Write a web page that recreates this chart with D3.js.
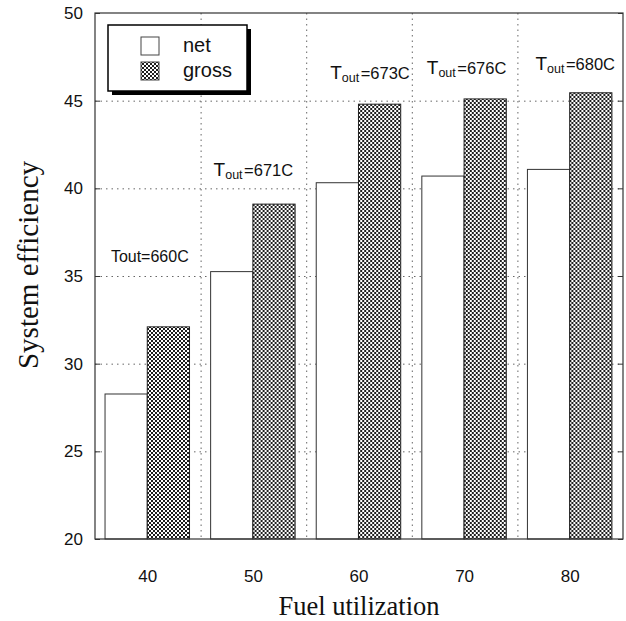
<!DOCTYPE html>
<html>
<head>
<meta charset="utf-8">
<script src="https://cdn.jsdelivr.net/npm/d3@7"></script>
<style>
  body { margin: 0; background: #fff; }
  svg { display: block; }
</style>
</head>
<body>
<svg id="chart" width="626" height="621"></svg>
<script>
// ---- data ----
const categories = ["40", "50", "60", "70", "80"];
const series = ["net", "gross"];
const netValues = [28.27, 35.25, 40.32, 40.7, 41.08];
const grossValues = [32.1, 39.1, 44.8, 45.1, 45.45];
const labelSub = [false, true, true, true, true];
const labelTemps = ["660C", "671C", "673C", "676C", "680C"];
const labelY = [35.8, 40.7, 46.25, 46.5, 46.75];
const yTicks = [20, 25, 30, 35, 40, 45, 50];
const gridY = [25, 30, 35, 40, 45];

// ---- layout ----
const svg = d3.select("#chart");
const L = 95, R = 623, T = 13, B = 539;
const labelNudge = [2, 0, 11, 2, 5];

const x = d3.scaleBand().domain(categories).range([L, R]).padding(0);
const bw = x.bandwidth();
const xs = d3.scaleBand().domain(series).range([bw * 0.095, bw * 0.895]).padding(0);
const y = d3.scaleLinear().domain([20, 50]).range([B, T]);

// pattern
const defs = svg.append("defs");
const pat = defs.append("pattern").attr("id", "checker")
  .attr("patternUnits", "userSpaceOnUse").attr("width", 4).attr("height", 4);
pat.append("rect").attr("width", 4).attr("height", 4).attr("fill", "#fff");
pat.append("rect").attr("x", 0).attr("y", 0).attr("width", 2).attr("height", 2).attr("fill", "#1e1e1e");
pat.append("rect").attr("x", 2).attr("y", 2).attr("width", 2).attr("height", 2).attr("fill", "#1e1e1e");

// grid lines
svg.append("g").selectAll("line").data(gridY).join("line")
  .attr("x1", L).attr("x2", R)
  .attr("y1", d => y(d) + 0.5).attr("y2", d => y(d) + 0.5)
  .attr("stroke", "#666").attr("stroke-width", 1).attr("stroke-dasharray", "1.5,4");
svg.append("g").selectAll("line").data(categories.slice(1)).join("line")
  .attr("x1", d => x(d) + 0.5).attr("x2", d => x(d) + 0.5)
  .attr("y1", T).attr("y2", B)
  .attr("stroke", "#666").attr("stroke-width", 1).attr("stroke-dasharray", "1.5,4");

// bars
const groups = svg.append("g").selectAll("g").data(categories).join("g")
  .attr("transform", d => `translate(${x(d)},0)`);
groups.append("rect")
  .attr("x", xs("net")).attr("width", xs.bandwidth())
  .attr("y", (d, i) => y(netValues[i])).attr("height", (d, i) => B - y(netValues[i]))
  .attr("fill", "#fff").attr("stroke", "#333").attr("stroke-width", 1);
groups.append("rect")
  .attr("x", xs("gross")).attr("width", xs.bandwidth())
  .attr("y", (d, i) => y(grossValues[i])).attr("height", (d, i) => B - y(grossValues[i]))
  .attr("fill", "url(#checker)").attr("stroke", "#222").attr("stroke-width", 1);

// frame
svg.append("rect").attr("x", L).attr("y", T).attr("width", R - L).attr("height", B - T)
  .attr("fill", "none").attr("stroke", "#333").attr("stroke-width", 1.2);

// inward ticks
const yAxisL = d3.axisRight(y).tickValues(yTicks).tickSize(5).tickFormat("");
svg.append("g").attr("transform", `translate(${L},0)`).call(yAxisL)
  .call(g => g.select(".domain").remove())
  .selectAll("line").attr("stroke", "#333");
const yAxisR = d3.axisLeft(y).tickValues(yTicks).tickSize(5).tickFormat("");
svg.append("g").attr("transform", `translate(${R},0)`).call(yAxisR)
  .call(g => g.select(".domain").remove())
  .selectAll("line").attr("stroke", "#333");

// y tick labels
const yLab = d3.axisLeft(y).tickValues(yTicks).tickSize(0).tickPadding(12);
svg.append("g").attr("transform", `translate(${L},0)`).call(yLab)
  .call(g => g.select(".domain").remove())
  .selectAll("text")
  .attr("font-family", "'Liberation Sans', Arial, sans-serif")
  .attr("font-size", 17).attr("fill", "#111");

// x tick labels
const xLab = d3.axisBottom(x).tickSize(0).tickPadding(31);
svg.append("g").attr("transform", `translate(0,${B})`).call(xLab)
  .call(g => g.select(".domain").remove())
  .selectAll("text")
  .attr("font-family", "'Liberation Sans', Arial, sans-serif")
  .attr("font-size", 17).attr("fill", "#111");

// annotations
const ann = svg.append("g").attr("font-family", "'Liberation Sans', Arial, sans-serif")
  .attr("fill", "#111").attr("text-anchor", "middle");
categories.forEach((c, i) => {
  const t = ann.append("text")
    .attr("x", x(c) + bw / 2 + labelNudge[i])
    .attr("y", y(labelY[i]))
    .attr("font-size", 16);
  if (labelSub[i]) {
    t.append("tspan").attr("font-size", 19).text("T");
    t.append("tspan").attr("font-size", 12.5).attr("dy", 3).text("out");
    t.append("tspan").attr("font-size", 16.5).attr("dy", -3).attr("dx", 1.5).text("=" + labelTemps[i]);
  } else {
    t.append("tspan").attr("font-size", 16).text("Tout=" + labelTemps[i]);
  }
});

// axis titles
svg.append("text")
  .attr("transform", `translate(38,265) rotate(-90)`)
  .attr("text-anchor", "middle")
  .attr("font-family", "'Liberation Serif', 'Times New Roman', serif")
  .attr("font-size", 29).attr("fill", "#111")
  .text("System efficiency");
svg.append("text")
  .attr("x", (L + R) / 2).attr("y", 615)
  .attr("text-anchor", "middle")
  .attr("font-family", "'Liberation Serif', 'Times New Roman', serif")
  .attr("font-size", 26.5).attr("fill", "#111")
  .text("Fuel utilization");

// legend
const lg = svg.append("g").attr("transform", "translate(108,25)");
lg.append("rect").attr("x", 4).attr("y", 4).attr("width", 139).attr("height", 66).attr("fill", "#000");
lg.append("rect").attr("x", 0).attr("y", 0).attr("width", 139).attr("height", 66)
  .attr("fill", "#fff").attr("stroke", "#000").attr("stroke-width", 1.5);
const legItems = [{name: "net", fill: "#fff"}, {name: "gross", fill: "url(#checker)"}];
legItems.forEach((it, i) => {
  lg.append("rect").attr("x", 33).attr("y", 12 + i * 25).attr("width", 18).attr("height", 18)
    .attr("fill", it.fill).attr("stroke", "#444").attr("stroke-width", 1);
  lg.append("text").attr("x", 75).attr("y", 27 + i * 25)
    .attr("font-family", "'Liberation Sans', Arial, sans-serif")
    .attr("font-size", 20).attr("fill", "#111").text(it.name);
});
</script>
</body>
</html>
